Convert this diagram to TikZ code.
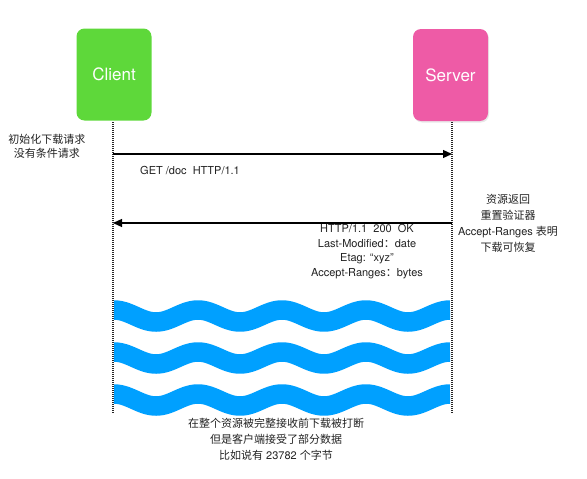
\documentclass[tikz,border=0pt]{standalone}
\usepackage{fontspec}
\setmainfont{TeX Gyre Heros}
\newfontfamily\cjk{Noto Sans CJK SC}
\usetikzlibrary{arrows.meta,shadows}
\definecolor{cgreen}{HTML}{5ED83A}
\definecolor{spink}{HTML}{EE5BA6}
\definecolor{wblue}{HTML}{00A0FF}
\definecolor{txt}{HTML}{222222}
\tikzset{
  actor/.style={rounded corners=8pt, minimum width=75pt, minimum height=92pt, inner sep=0pt, text=white, font=\fontsize{17}{20}\selectfont},
  lifeline/.style={line width=1.1pt, dash pattern=on 1pt off 1pt, black!85},
  msg/.style={line width=1.3pt, black, -{Triangle[length=9pt,width=8pt]}},
  lbl/.style={text=txt, font=\fontsize{11}{14.5}\selectfont, align=center, inner sep=0pt},
  wave/.style={line width=19.5pt, wblue, line cap=butt}
}
\begin{document}
\begin{tikzpicture}[x=1pt,y=-1pt]
\useasboundingbox (0,0) rectangle (587,479);
\node[actor, fill=cgreen] (client) at (114,74.5) {Client};
\node[actor, fill=spink, drop shadow={opacity=0.18, shadow xshift=1pt, shadow yshift=-1.5pt}] (server) at (450.5,75) {Server};
\coordinate (cTop) at (113,122);
\coordinate (cBot) at (113,413);
\coordinate (sTop) at (452,122);
\coordinate (sBot) at (452,413);
\draw[lifeline] (cTop) -- (cBot);
\draw[lifeline] (sTop) -- (sBot);
\coordinate (req1) at (113,154);
\coordinate (req2) at (452,154);
\coordinate (res1) at (452,223);
\coordinate (res2) at (113,223);
% waves
\foreach \yc in {310,352,394}{
  \draw[wave] plot[domain=0:336, samples=240, smooth] ({114+\x}, {\yc+6-6*cos(4.285714*\x)});
}
\draw[msg] (req1) -- (req2);
\draw[msg] (res1) -- (res2);
\node[lbl, anchor=west] (get) at (140,170) {GET /doc\ \ HTTP/1.1};
\node[lbl] (left) at (47,146.5) {\cjk 初始化下载请求\\\cjk 没有条件请求};
\node[lbl, font=\fontsize{11}{16}\selectfont] (right) at (508,223) {\cjk 资源返回\\\cjk 重置验证器\\Accept-Ranges {\cjk 表明}\\\cjk 下载可恢复};
\node[lbl] (resp) at (367,251.5) {HTTP/1.1\ \ 200\ \ OK\\Last-Modified{\cjk ：}date\\Etag: “xyz”\\Accept-Ranges{\cjk ：}bytes};
\node[lbl, font=\fontsize{11}{16}\selectfont] (bottom) at (276,439) {\cjk 在整个资源被完整接收前下载被打断\\\cjk 但是客户端接受了部分数据\\{\cjk 比如说有} 23782 {\cjk 个字节}};
\end{tikzpicture}
\end{document}
